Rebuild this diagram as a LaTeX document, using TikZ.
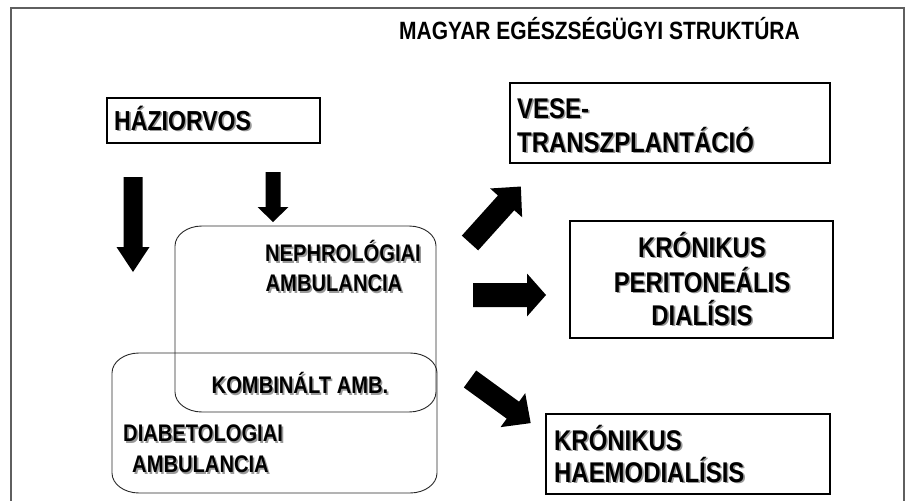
\documentclass[tikz,border=0pt]{standalone}
\usepackage{fontspec}
\setmainfont{Liberation Sans}[FakeStretch=0.84]
\usetikzlibrary{calc}
\newcommand\shd[1]{\makebox[0pt][l]{\kern1.6pt\raisebox{-1.6pt}{\textcolor{black!40}{#1}}}#1}
\newcommand\blockarrow[7]{%
  \coordinate (#1) at (#2);
  \fill[arrowfill, shift={(#1)}, rotate=#3]
    (0,{-#5/2}) -- ({#4-#7},{-#5/2}) -- ({#4-#7},{-#6/2}) -- (#4,0)
    -- ({#4-#7},{#6/2}) -- ({#4-#7},{#5/2}) -- (0,{#5/2}) -- cycle;}
\newcommand\ovalbox[5]{% x1,y1,x2,y2 (top-left, bottom-right), style
  \draw[#5] ({#1+27},#2) -- ({#3-27},#2)
    arc[start angle=90,end angle=0,x radius=27pt,y radius=20pt]
    -- (#3,{#4-20})
    arc[start angle=0,end angle=-90,x radius=27pt,y radius=20pt]
    -- ({#1+27},#4)
    arc[start angle=-90,end angle=-180,x radius=27pt,y radius=20pt]
    -- (#1,{#2+20})
    arc[start angle=180,end angle=90,x radius=27pt,y radius=20pt];}
\tikzset{
  frameline/.style={draw={rgb,255:red,95;green,95;blue,95}, line width=2pt},
  box/.style={draw=black, line width=2pt, inner sep=0pt, rectangle},
  oval/.style={draw={rgb,255:red,40;green,40;blue,40}, line width=0.9pt},
  arrowfill/.style={fill=black},
  big/.style={inner sep=0pt, font=\fontsize{28.5}{32}\selectfont\bfseries},
  mid/.style={inner sep=0pt, font=\fontsize{27.5}{31}\selectfont\bfseries},
  small/.style={inner sep=0pt, font=\fontsize{24}{28}\selectfont\bfseries},
  ttl/.style={inner sep=0pt, font=\fontsize{25}{29}\selectfont\bfseries},
}
\begin{document}
\begin{tikzpicture}[x=1pt,y=-1pt]
\useasboundingbox (0,0) rectangle (906,501);
% frame
\coordinate (fbl) at (11,502);
\coordinate (ftl) at (11,8);
\coordinate (ftr) at (904,8);
\coordinate (fbr) at (904,502);
\draw[frameline] (fbl) -- (ftl) -- (ftr) -- (fbr);
% title
\node[ttl, anchor=base] (title) at (599.5,39) {MAGYAR EGÉSZSÉGÜGYI STRUKTÚRA};
% boxes
\node[box, minimum width=213pt, minimum height=45pt, anchor=north west] (haz) at (106,97) {};
\node[mid, anchor=base west] (hazt) at (114,130) {\shd{HÁZIORVOS}};
\node[box, minimum width=320pt, minimum height=80pt, anchor=north west] (vese) at (509,82) {};
\node[big, anchor=base west] (vese1) at (517,118) {\shd{VESE-}};
\node[big, anchor=base west] (vese2) at (517,152) {\shd{TRANSZPLANTÁCIÓ}};
\node[box, minimum width=263pt, minimum height=117pt, anchor=north west] (peri) at (569,220) {};
\node[big, anchor=base] (peri1) at (702,257) {\shd{KRÓNIKUS}};
\node[big, anchor=base] (peri2) at (702,292) {\shd{PERITONEÁLIS}};
\node[big, anchor=base] (peri3) at (702,325) {\shd{DIALÍSIS}};
\node[box, minimum width=284pt, minimum height=80pt, anchor=north west] (haemo) at (545,413) {};
\node[big, anchor=base west] (haemo1) at (554,450) {\shd{KRÓNIKUS}};
\node[big, anchor=base west] (haemo2) at (554,482) {\shd{HAEMODIALÍSIS}};
% rounded ambulance shapes
\ovalbox{112}{353}{437}{493}{oval}
\ovalbox{175}{226}{436}{412}{oval}
\node[small, anchor=base] (neph1) at (343,261.6) {\shd{NEPHROLÓGIAI}};
\node[small, anchor=base] (neph2) at (334,291.6) {\shd{AMBULANCIA}};
\node[small, anchor=base] (komb) at (300,393.6) {\shd{KOMBINÁLT AMB.}};
\node[small, anchor=base west] (diab1) at (123,441.6) {\shd{DIABETOLOGIAI}};
\node[small, anchor=base west] (diab2) at (132,472.6) {\shd{AMBULANCIA}};
% block arrows
\blockarrow{a1}{133,177}{-90}{95}{19}{33}{25}
\blockarrow{a2}{273,172}{-90}{50}{15}{31}{15}
\blockarrow{a3}{470,243}{48}{76}{22}{43}{22}
\blockarrow{a4}{473,295}{0}{73}{24}{43}{19}
\blockarrow{a5}{470,379}{-36}{75}{21}{42}{22}
\end{tikzpicture}
\end{document}
